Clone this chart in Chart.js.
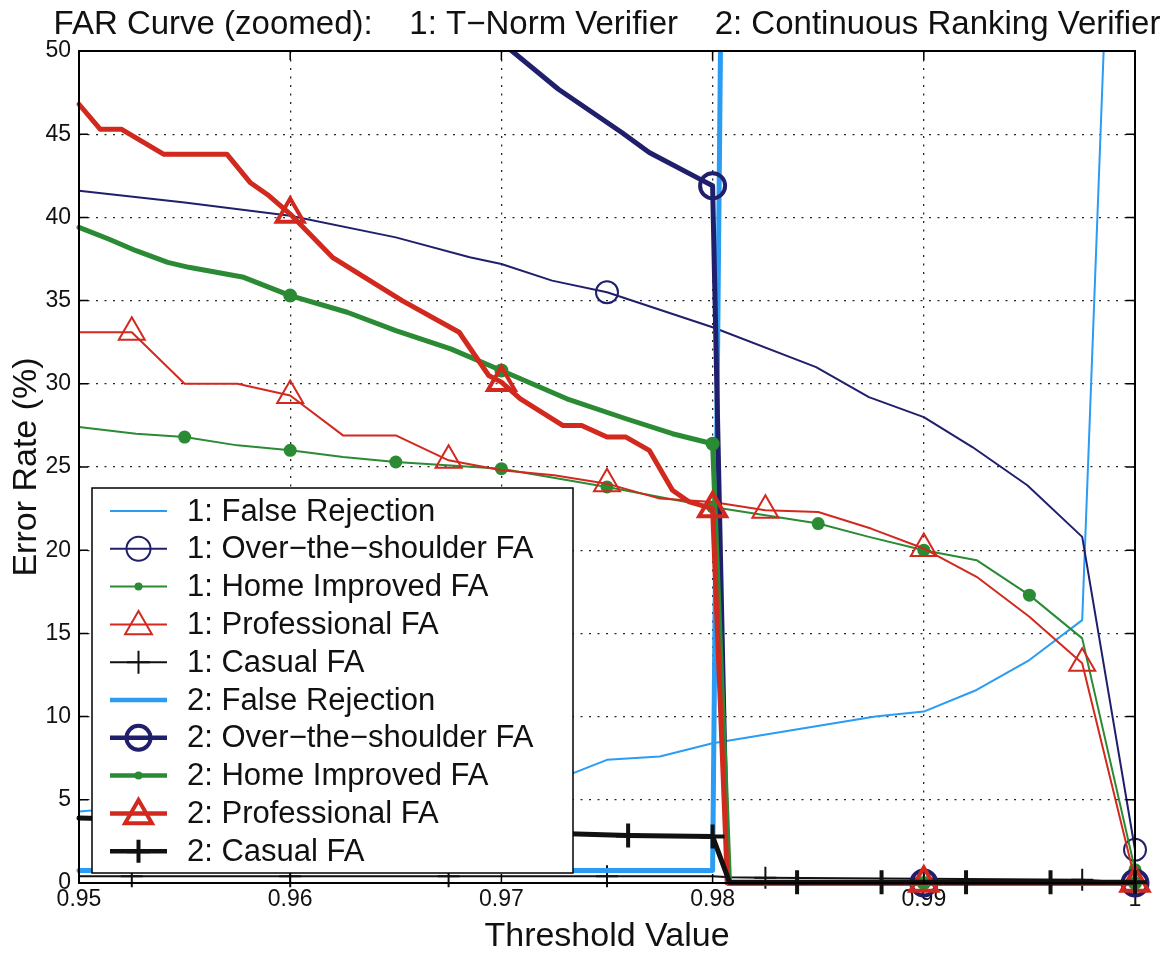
<!DOCTYPE html>
<html>
<head>
<meta charset="utf-8">
<script src="https://cdn.jsdelivr.net/npm/chart.js@4.4.0/dist/chart.umd.min.js"></script>
<style>
  html, body { margin: 0; padding: 0; background: #fff; }
  #wrap { width: 1176px; height: 957px; }
</style>
</head>
<body>
<div id="wrap"><canvas id="farChart" width="1176" height="957"></canvas></div>
<script>
// ---- data (threshold -> error rate %) ----
// 1: T-Norm verifier
const thrFR1 = [0.95, 0.955, 0.96, 0.965, 0.97, 0.9734, 0.975, 0.9775, 0.98, 0.9877, 0.99, 0.9925, 0.995, 0.9975, 1.0];
const errFR1 = [4.3, 4.8, 5.3, 5.8, 6.3, 6.6, 7.4, 7.6, 8.4, 10.0, 10.3, 11.6, 13.4, 15.8, 100];

const thrOTS1 = [0.95, 0.955, 0.96, 0.965, 0.9685, 0.97, 0.9724, 0.975, 0.98, 0.9849, 0.9874, 0.99, 0.9923, 0.9949, 0.9975, 1.0];
const errOTS1 = [41.6, 40.9, 40.1, 38.8, 37.6, 37.2, 36.2, 35.5, 33.4, 31.0, 29.2, 28.0, 26.2, 23.9, 20.8, 2.0];

const thrHI1 = [0.95, 0.9527, 0.955, 0.9575, 0.96, 0.9625, 0.965, 0.97, 0.975, 0.98, 0.985, 0.9874, 0.99, 0.9925, 0.995, 0.9975, 1.0];
const errHI1 = [27.4, 27.0, 26.8, 26.3, 26.0, 25.6, 25.3, 24.9, 23.8, 22.6, 21.6, 20.8, 20.0, 19.4, 17.3, 14.7, 0.8];

const thrPro1 = [0.95, 0.9525, 0.955, 0.9575, 0.96, 0.9625, 0.965, 0.9675, 0.97, 0.9725, 0.975, 0.9775, 0.98, 0.9825, 0.985, 0.9875, 0.99, 0.9925, 0.995, 0.9975, 1.0];
const errPro1 = [33.1, 33.1, 30.0, 30.0, 29.3, 26.9, 26.9, 25.4, 24.8, 24.5, 24.0, 23.1, 22.9, 22.4, 22.3, 21.3, 20.1, 18.4, 16.0, 13.2, 0.2];

const thrCas1 = [0.95, 0.9525, 0.96, 0.9675, 0.975, 0.98, 0.9808, 0.9825, 0.99, 0.9975, 1.0];
const errCas1 = [0.4, 0.4, 0.4, 0.4, 0.4, 0.4, 0.35, 0.32, 0.25, 0.2, 0.0];

// 2: Continuous ranking verifier
const thrFR2 = [0.95, 0.98, 0.98075];
const errFR2 = [0.75, 0.75, 100];

const thrOTS2 = [0.95, 0.965, 0.9705, 0.9727, 0.9757, 0.977, 0.9794, 0.98, 0.9807, 0.99, 1.0];
const errOTS2 = [62, 55.5, 50, 47.7, 45.1, 43.9, 42.3, 41.9, 0, 0, 0];

const thrHI2 = [0.95, 0.9514, 0.9527, 0.9542, 0.9552, 0.9578, 0.9594, 0.96, 0.9627, 0.965, 0.9676, 0.97, 0.9731, 0.9759, 0.9781, 0.98, 0.9808, 0.99, 1.0];
const errHI2 = [39.4, 38.7, 38.0, 37.3, 37.0, 36.4, 35.6, 35.3, 34.3, 33.2, 32.1, 30.8, 29.1, 27.9, 27.0, 26.4, 0, 0, 0];

const thrPro2 = [0.95, 0.951, 0.952, 0.954, 0.957, 0.9581, 0.959, 0.96, 0.962, 0.9653, 0.968, 0.9694, 0.97, 0.9709, 0.9729, 0.9738, 0.975, 0.9759, 0.977, 0.9781, 0.9789, 0.98, 0.9807, 0.99, 1.0];
const errPro2 = [46.8, 45.3, 45.3, 43.8, 43.8, 42.1, 41.3, 40.2, 37.6, 35.0, 33.1, 30.5, 30.1, 29.1, 27.5, 27.5, 26.8, 26.8, 26.0, 23.6, 22.9, 22.5, 0, 0, 0];

const thrCas2 = [0.95, 0.952, 0.956, 0.96, 0.964, 0.968, 0.972, 0.976, 0.98, 0.9808, 0.984, 0.988, 0.992, 0.996, 1.0];
const errCas2 = [3.9, 3.85, 3.7, 3.6, 3.4, 3.2, 3.0, 2.85, 2.8, 0.05, 0.05, 0.05, 0.05, 0.05, 0.05];

// thresholds where a marker symbol is drawn
const marksOTS1 = [0.975, 1.0];
const marksHI1 = [0.955, 0.96, 0.965, 0.97, 0.975, 0.98, 0.985, 0.99, 0.995, 1.0];
const marksPro1 = [0.9525, 0.96, 0.9675, 0.975, 0.9825, 0.99, 0.9975];
const marksCas1 = [0.9525, 0.96, 0.9675, 0.975, 0.9825, 0.99, 0.9975];
const marksTen2 = [0.96, 0.97, 0.98, 0.99, 1.0];
const marksCas2 = [0.952, 0.956, 0.96, 0.964, 0.968, 0.972, 0.976, 0.98, 0.984, 0.988, 0.992, 0.996, 1.0];

const xTickLabels = ['0.95', '0.96', '0.97', '0.98', '0.99', '1'];

const LIGHT_BLUE = '#2a9cf3';
const NAVY = '#1f1f6c';
const GREEN = '#2b8a34';
const RED = '#d2291f';
const BLACK = '#111111';
const FONT = "'Liberation Sans', Arial, Helvetica, sans-serif";
const M = '\u2212';
const TITLE = 'FAR Curve (zoomed):    1: T' + M + 'Norm Verifier    2: Continuous Ranking Verifier';

const series = [
  { label: '1: False Rejection', xs: thrFR1, ys: errFR1, color: LIGHT_BLUE, lw: 2, kind: 'none', marks: [] },
  { label: '1: Over' + M + 'the' + M + 'shoulder FA', xs: thrOTS1, ys: errOTS1, color: NAVY, lw: 2, kind: 'ring', r: 11, marks: marksOTS1 },
  { label: '1: Home Improved FA', xs: thrHI1, ys: errHI1, color: GREEN, lw: 2, kind: 'dot', r: 6.5, marks: marksHI1 },
  { label: '1: Professional FA', xs: thrPro1, ys: errPro1, color: RED, lw: 2, kind: 'tri', r: 15, marks: marksPro1 },
  { label: '1: Casual FA', xs: thrCas1, ys: errCas1, color: BLACK, lw: 2, kind: 'plus', r: 11, marks: marksCas1 },
  { label: '2: False Rejection', xs: thrFR2, ys: errFR2, color: LIGHT_BLUE, lw: 5, kind: 'none', marks: [] },
  { label: '2: Over' + M + 'the' + M + 'shoulder FA', xs: thrOTS2, ys: errOTS2, color: NAVY, lw: 5, kind: 'ring', r: 12.5, marks: marksTen2 },
  { label: '2: Home Improved FA', xs: thrHI2, ys: errHI2, color: GREEN, lw: 5, kind: 'dot', r: 7, marks: marksTen2 },
  { label: '2: Professional FA', xs: thrPro2, ys: errPro2, color: RED, lw: 5, kind: 'tri', r: 15.5, marks: marksTen2 },
  { label: '2: Casual FA', xs: thrCas2, ys: errCas2, color: BLACK, lw: 5, kind: 'plus', r: 12, marks: marksCas2 }
];

const styleOf = { none: 'circle', ring: 'circle', dot: 'circle', tri: 'triangle', plus: 'cross' };

function hasMark(s, x) {
  return s.marks.some(m => Math.abs(m - x) < 1e-7);
}

const datasets = series.map((s, i) => ({
  label: s.label,
  data: s.xs.map((x, k) => ({ x: x, y: s.ys[k] })),
  borderColor: s.color,
  borderWidth: s.lw,
  borderJoinStyle: 'round',
  borderCapStyle: 'round',
  fill: false,
  tension: 0,
  pointStyle: styleOf[s.kind],
  pointBorderColor: s.color,
  pointBackgroundColor: s.kind === 'dot' ? s.color : 'rgba(0,0,0,0)',
  pointBorderWidth: s.kind === 'dot' ? 0 : (s.lw > 2 ? 4 : 2),
  pointRadius: ctx => (ctx.raw && hasMark(s, ctx.raw.x)) ? s.r : 0,
  pointHoverRadius: 0,
  clip: { left: 20, top: 0, right: 20, bottom: 20 },
  order: series.length - i
}));

function drawMarker(ctx, kind, x, y, r, lw, color) {
  ctx.save();
  ctx.strokeStyle = color;
  ctx.fillStyle = color;
  ctx.lineWidth = lw;
  ctx.beginPath();
  if (kind === 'ring') {
    ctx.arc(x, y, r, 0, Math.PI * 2);
    ctx.stroke();
  } else if (kind === 'dot') {
    ctx.arc(x, y, r, 0, Math.PI * 2);
    ctx.fill();
  } else if (kind === 'tri') {
    for (let k = 0; k < 3; k++) {
      const a = k * 2 * Math.PI / 3;
      const px = x + Math.sin(a) * r, py = y - Math.cos(a) * r;
      if (k === 0) ctx.moveTo(px, py); else ctx.lineTo(px, py);
    }
    ctx.closePath();
    ctx.stroke();
  } else if (kind === 'plus') {
    ctx.moveTo(x - r, y); ctx.lineTo(x + r, y);
    ctx.moveTo(x, y - r); ctx.lineTo(x, y + r);
    ctx.stroke();
  }
  ctx.restore();
}

// axes box with inward ticks, title over the axes, and the legend inside the plot (matlab style)
const boxAndLegend = {
  id: 'boxAndLegend',
  afterDatasetsDraw(chart) {
    const ctx = chart.ctx;
    const a = chart.chartArea;
    const xs = chart.scales.x, ys = chart.scales.y;
    ctx.save();
    ctx.strokeStyle = '#000';
    ctx.lineWidth = 2;
    ctx.strokeRect(a.left, a.top, a.right - a.left, a.bottom - a.top);
    ctx.lineWidth = 1.5;
    ctx.beginPath();
    xs.ticks.forEach(t => {
      const px = xs.getPixelForValue(t.value);
      ctx.moveTo(px, a.bottom); ctx.lineTo(px, a.bottom - 9);
      ctx.moveTo(px, a.top); ctx.lineTo(px, a.top + 9);
    });
    ys.ticks.forEach(t => {
      const py = ys.getPixelForValue(t.value);
      ctx.moveTo(a.left, py); ctx.lineTo(a.left + 9, py);
      ctx.moveTo(a.right, py); ctx.lineTo(a.right - 9, py);
    });
    ctx.stroke();

    // title, centred over the axes
    ctx.fillStyle = '#111';
    ctx.font = '33px ' + FONT;
    ctx.textAlign = 'center';
    ctx.textBaseline = 'middle';
    ctx.fillText(TITLE, (a.left + a.right) / 2, 25);

    // legend
    const lx = 92, ly = 488, lw = 481, lh = 385;
    ctx.fillStyle = '#fff';
    ctx.fillRect(lx, ly, lw, lh);
    ctx.lineWidth = 1.5;
    ctx.strokeStyle = '#000';
    ctx.strokeRect(lx, ly, lw, lh);
    ctx.font = '31px ' + FONT;
    ctx.textBaseline = 'middle';
    ctx.textAlign = 'left';
    series.forEach((s, i) => {
      const y = 511 + i * 37.8;
      ctx.strokeStyle = s.color;
      ctx.lineWidth = s.lw > 2 ? 4.5 : 2;
      ctx.beginPath();
      ctx.moveTo(110, y); ctx.lineTo(167, y);
      ctx.stroke();
      const mr = { ring: 12, dot: 4, tri: 15.5, plus: 11.5, none: 0 }[s.kind];
      drawMarker(ctx, s.kind, 138.5, s.kind === 'tri' ? y + 2 : y, mr, s.lw > 2 ? 4 : 2, s.color);
      ctx.fillStyle = '#111';
      ctx.fillText(s.label, 187, y + 1);
    });
    ctx.restore();
  }
};

new Chart(document.getElementById('farChart'), {
  type: 'line',
  data: { datasets: datasets },
  plugins: [boxAndLegend],
  options: {
    responsive: false,
    animation: false,
    events: [],
    layout: { padding: { left: 0, right: 41, top: 51, bottom: 0 } },
    plugins: {
      legend: { display: false },
      tooltip: { enabled: false },
      title: { display: false }
    },
    scales: {
      x: {
        type: 'linear',
        min: 0.95,
        max: 1,
        afterFit: scale => { scale.height = 74; },
        afterBuildTicks: scale => {
          scale.ticks = xTickLabels.map(v => ({ value: parseFloat(v) }));
        },
        ticks: {
          autoSkip: false,
          maxRotation: 0,
          padding: 3,
          color: '#111',
          font: { family: FONT, size: 23 },
          callback: (v, i) => xTickLabels[i]
        },
        grid: { color: 'rgba(0,0,0,0.85)', lineWidth: 1.3, drawTicks: false },
        border: { display: false, dash: [2, 6.5] },
        title: {
          display: true,
          text: 'Threshold Value',
          color: '#111',
          font: { family: FONT, size: 34 },
          padding: { top: 0, bottom: 0 }
        }
      },
      y: {
        min: 0,
        max: 50,
        afterFit: scale => { scale.width = 79; },
        ticks: {
          stepSize: 5,
          padding: 8,
          color: '#111',
          font: { family: FONT, size: 23 }
        },
        grid: { color: 'rgba(0,0,0,0.85)', lineWidth: 1.3, drawTicks: false },
        border: { display: false, dash: [2, 6.5] },
        title: {
          display: true,
          text: 'Error Rate (%)',
          color: '#111',
          font: { family: FONT, size: 34 },
          padding: { top: 6, bottom: 0 }
        }
      }
    }
  }
});
</script>
</body>
</html>
